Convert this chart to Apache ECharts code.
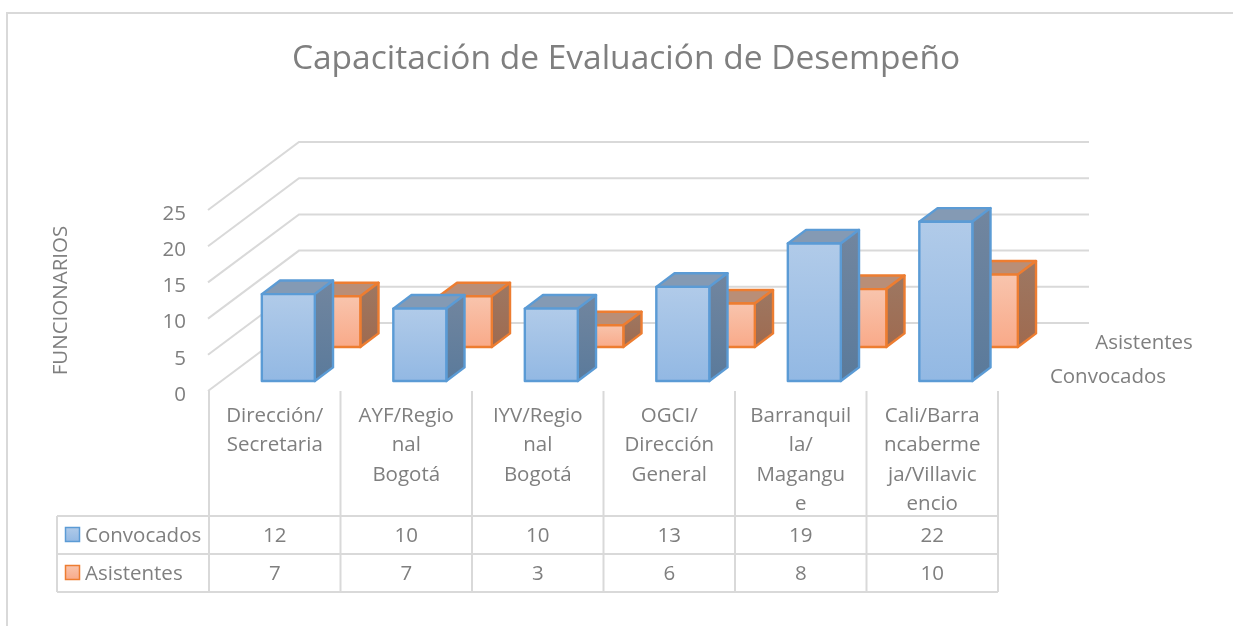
<!DOCTYPE html>
<html>
<head>
<meta charset="utf-8">
<title>Capacitación de Evaluación de Desempeño</title>
<script src="https://cdn.jsdelivr.net/npm/echarts@6/dist/echarts.min.js"></script>
<style>
html, body { margin: 0; padding: 0; background: #fff; }
#chart { width: 1233px; height: 626px; }
</style>
</head>
<body>
<div id="chart"></div>
<script>
// data
const chartTitle = 'Capacitación de Evaluación de Desempeño';
const yAxisName = 'FUNCIONARIOS';
const categories = [
    'Dirección/\nSecretaria',
    'AYF/Regio\nnal\nBogotá',
    'IYV/Regio\nnal\nBogotá',
    'OGCI/\nDirección\nGeneral',
    'Barranquil\nla/\nMagangu\ne',
    'Cali/Barra\nncaberme\nja/Villavic\nencio'
];
const convocados = [12, 10, 10, 13, 19, 22];
const asistentes = [7, 7, 3, 6, 8, 10];
const yTicks = [0, 5, 10, 15, 20, 25];

const textColor = '#7f7f7f';
const lineColor = '#d9d9d9';
const fontName = '"Open Sans", sans-serif';
const textSize = 20.5;

// fake 3d: how far the back wall sits from the front plane, in px
const wallDx = 91;
const wallDy = -68;
// table rows, px
const tableLeft = 57;
const tableRight = 998;
const rowLines = [516, 554, 592];
const rowText = [536, 574];

const blueStyle = {
    stroke: '#5b9bd5',
    front: ['#b1cbe9', '#92b8e3'],
    top: '#849ab4',
    side: ['#72869f', '#5a7a9b']
};
const orangeStyle = {
    stroke: '#ed7d31',
    front: ['#f8c5ae', '#f9a988'],
    top: '#b98e77',
    side: ['#9d7863', '#9f6a4f']
};

function vGrad(c) {
    return {
        type: 'linear', x: 0, y: 0, x2: 0, y2: 1,
        colorStops: [{ offset: 0, color: c[0] }, { offset: 1, color: c[1] }]
    };
}

// one box, the front face goes through the axis scales and is pushed back by depth
function barRenderer(depth, look) {
    return function (params, api) {
        const base = api.coord([api.value(0), 0]);
        const head = api.coord([api.value(0), api.value(1)]);
        const band = api.size([1, 0])[0];
        const w = band * 0.403;
        const x0 = base[0] - band / 2 + band * 0.3 + wallDx * depth;
        const x1 = x0 + w;
        const y0 = head[1] + wallDy * depth;
        const y1 = base[1] + wallDy * depth;
        const dx = wallDx * 0.2;
        const dy = wallDy * 0.2;
        const edge = { stroke: look.stroke, lineWidth: 2.4, lineJoin: 'round' };
        return {
            type: 'group',
            children: [
                {
                    type: 'polygon',
                    shape: { points: [[x0, y0], [x1, y0], [x1 + dx, y0 + dy], [x0 + dx, y0 + dy]] },
                    style: Object.assign({ fill: look.top }, edge)
                },
                {
                    type: 'polygon',
                    shape: { points: [[x1, y0], [x1 + dx, y0 + dy], [x1 + dx, y1 + dy], [x1, y1]] },
                    style: Object.assign({ fill: vGrad(look.side) }, edge)
                },
                {
                    type: 'rect',
                    shape: { x: x0, y: y0, width: w, height: y1 - y0 },
                    style: Object.assign({ fill: vGrad(look.front) }, edge)
                }
            ]
        };
    };
}

// floor/wall lines for each value tick
function wallRenderer(params, api) {
    const sys = params.coordSys;
    const y = api.coord([0, api.value(1)])[1];
    return {
        type: 'polyline',
        shape: { points: [[sys.x - 1, y], [sys.x + wallDx - 1, y + wallDy], [sys.x + sys.width + wallDx, y + wallDy]] },
        style: { fill: 'none', stroke: lineColor, lineWidth: 2 }
    };
}

// table column: separator on the left and the two values
function tableRenderer(params, api) {
    const c = api.coord([api.value(0), 0]);
    const band = api.size([1, 0])[0];
    const left = c[0] - band / 2;
    const kids = [{
        type: 'line',
        shape: { x1: left, y1: c[1], x2: left, y2: rowLines[2] },
        style: { stroke: lineColor, lineWidth: 2 }
    }];
    [api.value(1), api.value(2)].forEach(function (v, r) {
        kids.push({
            type: 'text',
            style: {
                x: c[0], y: rowText[r], text: String(v), fill: textColor,
                font: textSize + 'px ' + fontName, textAlign: 'center', textVerticalAlign: 'middle'
            }
        });
    });
    if (params.dataIndex === categories.length - 1) {
        kids.push({
            type: 'line',
            shape: { x1: left + band, y1: c[1], x2: left + band, y2: rowLines[2] },
            style: { stroke: lineColor, lineWidth: 2 }
        });
    }
    return { type: 'group', children: kids };
}

function keyBox(y, look) {
    return {
        type: 'rect',
        shape: { x: 65.5, y: y, width: 14, height: 14 },
        style: { fill: vGrad(look.front), stroke: look.stroke, lineWidth: 1.5 }
    };
}

function plainText(x, y, text, align) {
    return {
        type: 'text', x: x, y: y,
        style: { text: text, fill: textColor, font: textSize + 'px ' + fontName, textAlign: align, textVerticalAlign: 'middle' }
    };
}

const extras = [
    // outer frame, cut off by the picture on the right and bottom
    { type: 'polyline', shape: { points: [[7, 626], [7, 13], [1233, 13]] }, style: { fill: 'none', stroke: lineColor, lineWidth: 2 } },
    { type: 'line', shape: { x1: tableLeft, y1: rowLines[0], x2: tableLeft, y2: rowLines[2] }, style: { stroke: lineColor, lineWidth: 2 } }
];
rowLines.forEach(function (y) {
    extras.push({ type: 'line', shape: { x1: tableLeft, y1: y, x2: tableRight, y2: y }, style: { stroke: lineColor, lineWidth: 2 } });
});
extras.push(keyBox(rowText[0] - 8.5, blueStyle), keyBox(rowText[1] - 8.5, orangeStyle));
extras.push(plainText(85, rowText[0], 'Convocados', 'left'), plainText(85, rowText[1], 'Asistentes', 'left'));
extras.push(plainText(1108, 377, 'Convocados', 'center'), plainText(1144, 343, 'Asistentes', 'center'));

const myChart = echarts.init(document.getElementById('chart'), null, { renderer: 'canvas' });
myChart.setOption({
    animation: false,
    backgroundColor: '#ffffff',
    title: {
        text: chartTitle,
        left: 621,
        top: 37,
        textAlign: 'center',
        textStyle: { color: textColor, fontFamily: fontName, fontSize: 33.5, fontWeight: 'normal' }
    },
    grid: { left: 209, top: 210, width: 789, height: 181, outerBoundsMode: 'none' },
    xAxis: {
        type: 'category',
        data: categories,
        axisLine: { show: false },
        axisTick: { show: false },
        axisLabel: {
            interval: 0, margin: 10, lineHeight: 29.5, verticalAlign: 'top',
            color: textColor, fontFamily: fontName, fontSize: textSize
        }
    },
    yAxis: {
        type: 'value',
        min: 0,
        max: 25,
        interval: 5,
        name: yAxisName,
        nameLocation: 'middle',
        nameGap: 137,
        nameTextStyle: { color: textColor, fontFamily: fontName, fontSize: 20.5 },
        axisLine: { show: false },
        axisTick: { show: false },
        splitLine: { show: false },
        axisLabel: { margin: 23, verticalAlign: 'top', lineHeight: 8, color: textColor, fontFamily: fontName, fontSize: textSize }
    },
    series: [
        {
            type: 'custom', name: 'pared', silent: true, clip: false, z: 1,
            renderItem: wallRenderer,
            data: yTicks.map(function (v) { return [0, v]; })
        },
        {
            type: 'custom', name: 'Asistentes', clip: false, z: 2,
            renderItem: barRenderer(0.647, orangeStyle),
            data: asistentes.map(function (v, i) { return [i, v]; })
        },
        {
            type: 'custom', name: 'Convocados', clip: false, z: 3,
            renderItem: barRenderer(0.147, blueStyle),
            data: convocados.map(function (v, i) { return [i, v]; })
        },
        {
            type: 'custom', name: 'tabla', silent: true, clip: false, z: 1,
            renderItem: tableRenderer,
            data: categories.map(function (c, i) { return [i, convocados[i], asistentes[i]]; })
        }
    ],
    graphic: { elements: extras }
});
</script>
</body>
</html>
